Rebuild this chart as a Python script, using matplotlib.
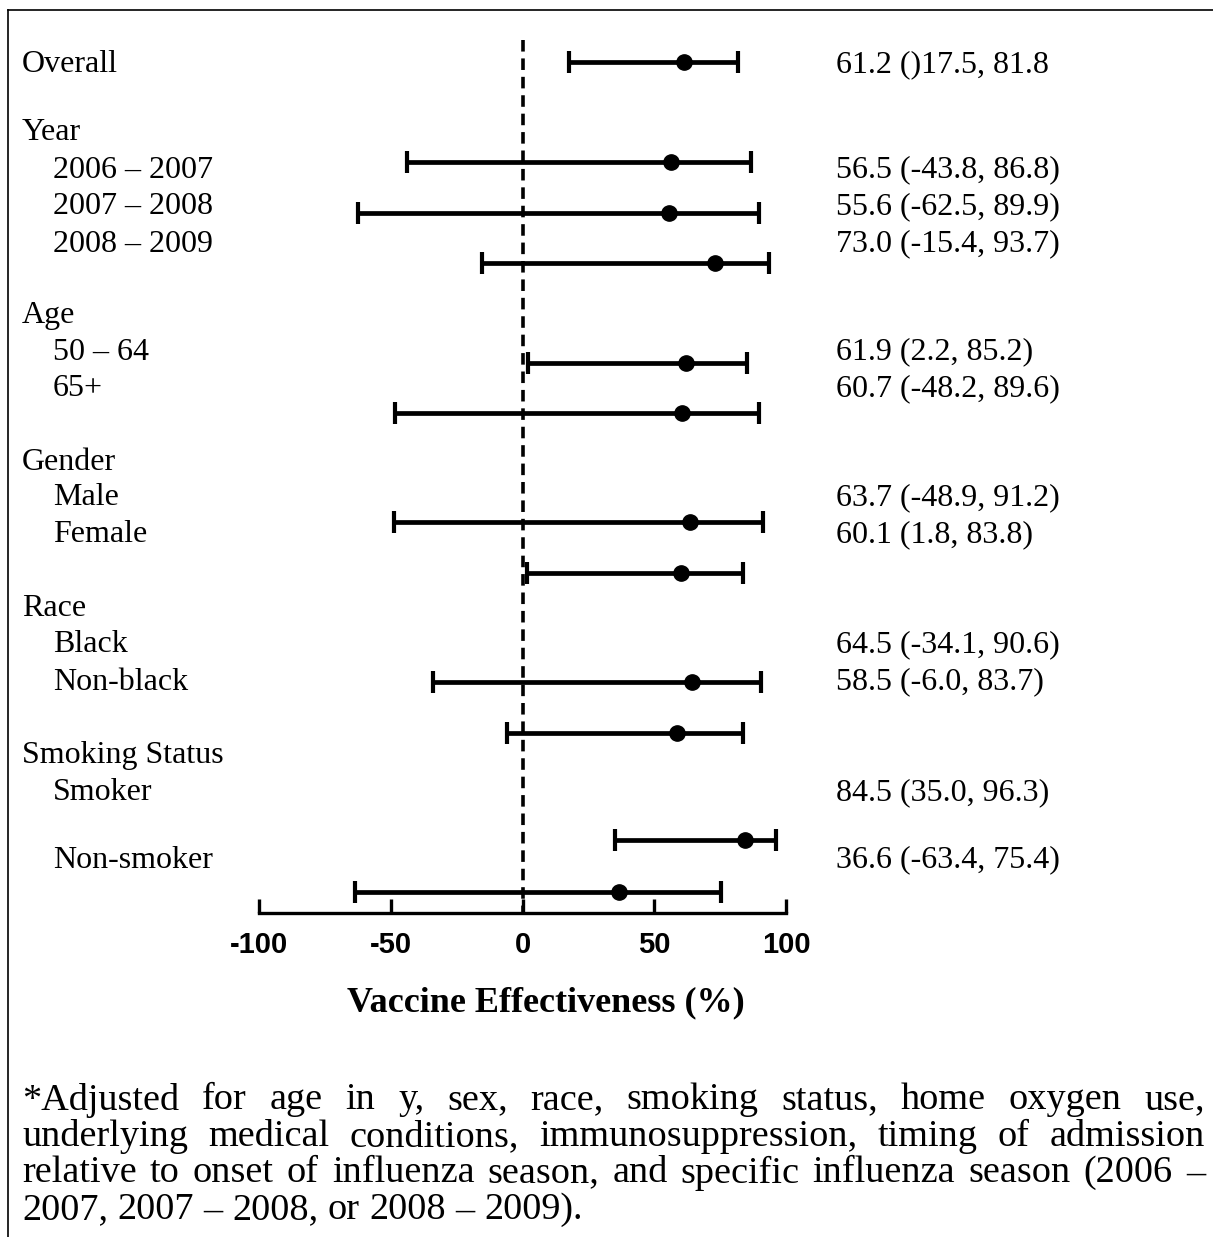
"""
Forest plot of vaccine effectiveness by subgroup.
"""

import matplotlib
matplotlib.use("Agg")
import matplotlib.pyplot as plt
from matplotlib.lines import Line2D

plt.rcParams["axes.unicode_minus"] = False

W, H = 1213, 1237

# -------------------------------
# Data
# -------------------------------
groups = ["Overall", "2006 – 2007", "2007 – 2008", "2008 – 2009",
          "50 – 64", "65+", "Male", "Female", "Black", "Non-black",
          "Smoker", "Non-smoker"]
estimate = [61.2, 56.5, 55.6, 73.0, 61.9, 60.7, 63.7, 60.1, 64.5, 58.5, 84.5, 36.6]
ci_low = [17.5, -43.8, -62.5, -15.4, 2.2, -48.2, -48.9, 1.8, -34.1, -6.0, 35.0, -63.4]
ci_high = [81.8, 86.8, 89.9, 93.7, 85.2, 89.6, 91.2, 83.8, 90.6, 83.7, 96.3, 75.4]
ci_text = ["61.2 ()17.5, 81.8", "56.5 (-43.8, 86.8)", "55.6 (-62.5, 89.9)",
           "73.0 (-15.4, 93.7)", "61.9 (2.2, 85.2)", "60.7 (-48.2, 89.6)",
           "63.7 (-48.9, 91.2)", "60.1 (1.8, 83.8)", "64.5 (-34.1, 90.6)",
           "58.5 (-6.0, 83.7)", "84.5 (35.0, 96.3)", "36.6 (-63.4, 75.4)"]
headers = ["Year", "Age", "Gender", "Race", "Smoking Status"]
x_ticks = [-100, -50, 0, 50, 100]

footnote = [
    "*Adjusted for age in y, sex, race, smoking status, home oxygen use,",
    "underlying medical conditions, immunosuppression, timing of admission",
    "relative to onset of influenza season, and specific influenza season (2006 –",
    "2007, 2007 – 2008, or 2008 – 2009).",
]

# -------------------------------
# Layout (pixel rows of the original)
# -------------------------------
bar_rows = [62, 162, 213, 263, 363, 413, 522, 573, 682, 733, 840, 892]
label_rows = [65, 170, 207, 244, 352, 389, 498, 535, 645, 682, 793, 860]
header_rows = [133, 315, 462, 608, 756]
foot_rows = [1100, 1137, 1173, 1210]


def fx(x):
    return x / W


def fy(y):
    return 1 - y / H


serif = "Liberation Serif"
fs = 23
fs_foot = 27.5

fig = plt.figure(figsize=(W / 100, H / 100), dpi=100)

ax_top, ax_bot = 10, 913
ax = fig.add_axes([fx(259), fy(ax_bot), (786 - 259) / W, (ax_bot - ax_top) / H])
ax.set_xlim(-100, 100)
ax.set_ylim(ax_bot, ax_top)

# Error bars
for est, lo, hi, y in zip(estimate, ci_low, ci_high, bar_rows):
    ax.errorbar(est, y, xerr=[[est - lo], [hi - est]], fmt="o", color="black",
                markersize=11, elinewidth=3.4, capsize=8, capthick=3,
                clip_on=False, zorder=3)

# Reference line at zero
ax.plot([0, 0], [40, ax_bot], color="black", lw=2.6,
        linestyle=(0, (3.2, 1.9)), zorder=2)

for side in ["left", "top", "right"]:
    ax.spines[side].set_visible(False)
ax.spines["bottom"].set_linewidth(2.4)
ax.set_yticks([])
ax.set_xticks(x_ticks)
ax.tick_params(axis="x", direction="in", length=10, width=2.4, pad=13)
for lab in ax.get_xticklabels():
    lab.set_fontfamily("Liberation Sans")
    lab.set_fontweight("bold")
    lab.set_fontsize(21)

fig.text(fx(546), fy(1003), "Vaccine Effectiveness (%)", family=serif,
         fontweight="bold", fontsize=26, ha="center", va="center")

# Left labels
for name, y in zip(headers, header_rows):
    fig.text(fx(22), fy(y), name, family=serif, fontsize=fs, va="center")
for name, y in zip(groups, label_rows):
    x0 = 22 if name == "Overall" else 53
    fig.text(fx(x0), fy(y), name, family=serif, fontsize=fs, va="center")

# Right labels
for txt, y in zip(ci_text, label_rows):
    fig.text(fx(836), fy(y), txt, family=serif, fontsize=fs, va="center")

# Footnote, justified
renderer = fig.canvas.get_renderer()
left, right = 22, 1205
for i, (line, y) in enumerate(zip(footnote, foot_rows)):
    words = line.split(" ")
    objs = [fig.text(0, fy(y), w, family=serif, fontsize=fs_foot, va="center")
            for w in words]
    widths = [o.get_window_extent(renderer).width for o in objs]
    if i < len(footnote) - 1:
        gap = (right - left - sum(widths)) / (len(words) - 1)
    else:
        gap = fs_foot * 100 / 72 * 0.25
    x = left
    for o, wd in zip(objs, widths):
        o.set_x(fx(x))
        x += wd + gap

# Frame
fig.add_artist(Line2D([fx(8), 1], [fy(10), fy(10)], color="black", lw=1.2))
fig.add_artist(Line2D([fx(8), fx(8)], [fy(10), 0], color="black", lw=1.2))

fig.savefig("out.png", dpi=100)
